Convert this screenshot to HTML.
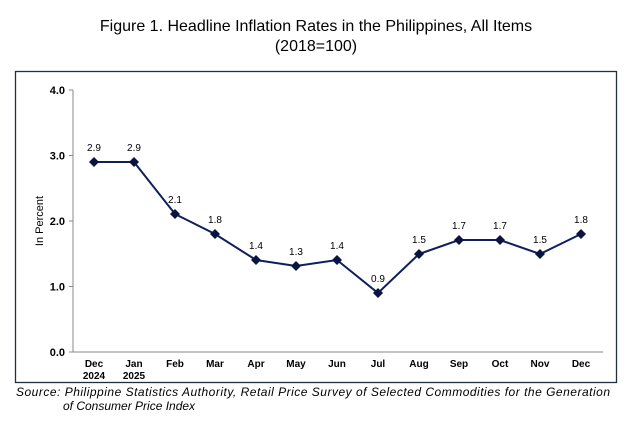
<!DOCTYPE html>
<html><head><meta charset="utf-8"><style>
body{margin:0;background:#fff;width:632px;height:435px;overflow:hidden;font-family:"Liberation Sans",Arial,sans-serif}
</style></head><body>
<svg width="632" height="435" style="position:absolute;left:0;top:0" font-family="Liberation Sans, Arial, sans-serif">
<text x="316" y="31" font-size="16" text-anchor="middle">Figure 1. Headline Inflation Rates in the Philippines, All Items</text>
<text x="316" y="51" font-size="16" text-anchor="middle">(2018=100)</text>
<rect x="15.5" y="71.5" width="601" height="311" fill="none" stroke="#1f3040" stroke-width="1.3"/>
<line x1="73" y1="90" x2="73" y2="352" stroke="#888"/>
<line x1="73" y1="352" x2="603" y2="352" stroke="#888"/>
<g stroke="#888"><line x1="69" y1="90" x2="73" y2="90"/><line x1="69" y1="155.5" x2="73" y2="155.5"/><line x1="69" y1="221" x2="73" y2="221"/><line x1="69" y1="286.5" x2="73" y2="286.5"/><line x1="69" y1="352" x2="73" y2="352"/></g>
<g font-size="11" font-weight="bold" text-anchor="end"><text x="65" y="94">4.0</text><text x="65" y="159.5">3.0</text><text x="65" y="225">2.0</text><text x="65" y="290.5">1.0</text><text x="65" y="356">0.0</text></g>
<text transform="translate(43,221) rotate(-90)" font-size="11" text-anchor="middle">In Percent</text>
<polyline fill="none" stroke="#0d1f5c" stroke-width="2" points="94,162 134,162 175,214 215,234 256,260 296,266 337,260 378,293 419,254 459,240 500,240 540,254 581,234"/>
<g fill="#0a1440">
<path d="M94 157l5 5-5 5-5-5z"/><path d="M134 157l5 5-5 5-5-5z"/><path d="M175 209l5 5-5 5-5-5z"/><path d="M215 229l5 5-5 5-5-5z"/><path d="M256 255l5 5-5 5-5-5z"/><path d="M296 261l5 5-5 5-5-5z"/><path d="M337 255l5 5-5 5-5-5z"/><path d="M378 288l5 5-5 5-5-5z"/><path d="M419 249l5 5-5 5-5-5z"/><path d="M459 235l5 5-5 5-5-5z"/><path d="M500 235l5 5-5 5-5-5z"/><path d="M540 249l5 5-5 5-5-5z"/><path d="M581 229l5 5-5 5-5-5z"/>
</g>
<g font-size="10" text-anchor="middle">
<text x="94" y="151">2.9</text><text x="134" y="151">2.9</text><text x="175" y="203">2.1</text><text x="215" y="223">1.8</text><text x="256" y="249">1.4</text><text x="296" y="255">1.3</text><text x="337" y="249">1.4</text><text x="378" y="282">0.9</text><text x="419" y="243">1.5</text><text x="459" y="229">1.7</text><text x="500" y="229">1.7</text><text x="540" y="243">1.5</text><text x="581" y="223">1.8</text>
</g>
<g font-size="10" font-weight="bold" text-anchor="middle">
<text x="94" y="367">Dec</text><text x="94" y="379">2024</text><text x="134" y="367">Jan</text><text x="134" y="379">2025</text>
<text x="175" y="367">Feb</text><text x="215" y="367">Mar</text><text x="256" y="367">Apr</text><text x="296" y="367">May</text><text x="337" y="367">Jun</text><text x="378" y="367">Jul</text><text x="419" y="367">Aug</text><text x="459" y="367">Sep</text><text x="500" y="367">Oct</text><text x="540" y="367">Nov</text><text x="581" y="367">Dec</text>
</g>
<g font-size="12" font-style="italic">
<text x="16" y="396" textLength="594" lengthAdjust="spacing">Source: Philippine Statistics Authority, Retail Price Survey of Selected Commodities for the Generation</text>
<text x="63" y="410">of Consumer Price Index</text>
</g>
</svg>
</body></html>
